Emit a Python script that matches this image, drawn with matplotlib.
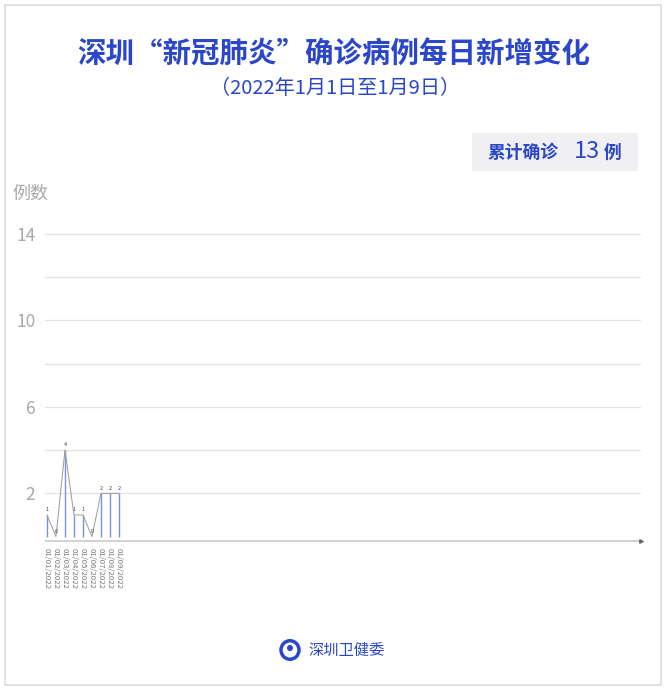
import matplotlib
matplotlib.use("Agg")
import matplotlib.pyplot as plt
from matplotlib.patches import Rectangle, Circle

plt.rcParams['font.family'] = ['Noto Sans CJK SC', 'DejaVu Sans']

dates = ['01/01/2022', '01/02/2022', '01/03/2022', '01/04/2022', '01/05/2022',
         '01/06/2022', '01/07/2022', '01/08/2022', '01/09/2022']
new_cases = [1, 0, 4, 1, 1, 0, 2, 2, 2]
total_cases = 13
yticks_shown = [2, 6, 10, 14]
grid_levels = [2, 4, 6, 8, 10, 12, 14]

W, H = 668, 688
blue = '#2b47c9'
fig = plt.figure(figsize=(W / 100, H / 100), dpi=100)

def fx(px):
    return px / W

def fy(py):
    return 1 - py / H

# outer frame
fig.patches.append(Rectangle((fx(5), fy(685)), fx(656), (680) / H, transform=fig.transFigure,
                             fill=False, edgecolor='#dcdcdc', linewidth=1.2))

fig.text(fx(334), fy(55), '深圳“新冠肺炎”确诊病例每日新增变化', ha='center', va='center',
         fontsize=20.5, fontweight='bold', color=blue)
fig.text(fx(335), fy(89), '（2022年1月1日至1月9日）', ha='center', va='center',
         fontsize=14.5, fontweight='light', color=blue)

# total box
fig.patches.append(Rectangle((fx(472), fy(171)), fx(166), 38 / H, transform=fig.transFigure,
                             facecolor='#f0f0f3', edgecolor='none'))
fig.text(fx(488), fy(153), '累计确诊', ha='left', va='center', fontsize=12.8,
         fontweight='bold', color=blue)
fig.text(fx(574), fy(151), str(total_cases), ha='left', va='center', fontsize=17,
         color=blue)
fig.text(fx(604), fy(153), '例', ha='left', va='center', fontsize=12.8,
         fontweight='bold', color=blue)

fig.text(fx(12), fy(194), '例数', ha='left', va='center', fontsize=13, color='#a8a8a8')

ax = fig.add_axes([fx(45), fy(542), fx(596), (542 - 223) / H])
ax.set_xlim(-0.22, 66)
ax.set_ylim(-0.25, 14.5)
for s in ax.spines.values():
    s.set_visible(False)

for g in grid_levels:
    ax.axhline(g, color='#e3e3e3', linewidth=0.9, zorder=0)
ax.axhline(-0.2, color='#cfcfcf', linewidth=1.3, zorder=1)
ax.plot([66], [-0.2], marker='>', markersize=2.5, color='#666666', clip_on=False)

x = list(range(len(new_cases)))
ax.vlines(x, 0, new_cases, colors='#7d90da', linewidth=1.0, zorder=2)
ax.plot(x, new_cases, color='#9a9a9a', linewidth=0.7, zorder=3)
for xi, v in zip(x, new_cases):
    ax.text(xi, v + 0.12, str(v), ha='center', va='bottom', fontsize=4, color='#444444')

ax.set_yticks(yticks_shown)
ax.set_yticklabels([str(t) for t in yticks_shown], fontsize=12.5, color='#a8a8a8')
ax.tick_params(axis='y', length=0, pad=7)
ax.set_xticks(x)
ax.set_xticklabels(dates, rotation=-90, fontsize=5.6, style='italic', color='#777777')
ax.tick_params(axis='x', length=0, pad=4)

# footer logo + name
fig.patches.append(Circle((fx(290), fy(650)), 9 / W, transform=fig.transFigure,
                          facecolor='white', edgecolor=blue, linewidth=2.5))
fig.patches.append(Circle((fx(290), fy(648)), 3 / W, transform=fig.transFigure,
                          facecolor=blue, edgecolor='none'))
fig.text(fx(308), fy(650), '深圳卫健委', ha='left', va='center', fontsize=11, color=blue)

fig.savefig('out.png', dpi=100)
